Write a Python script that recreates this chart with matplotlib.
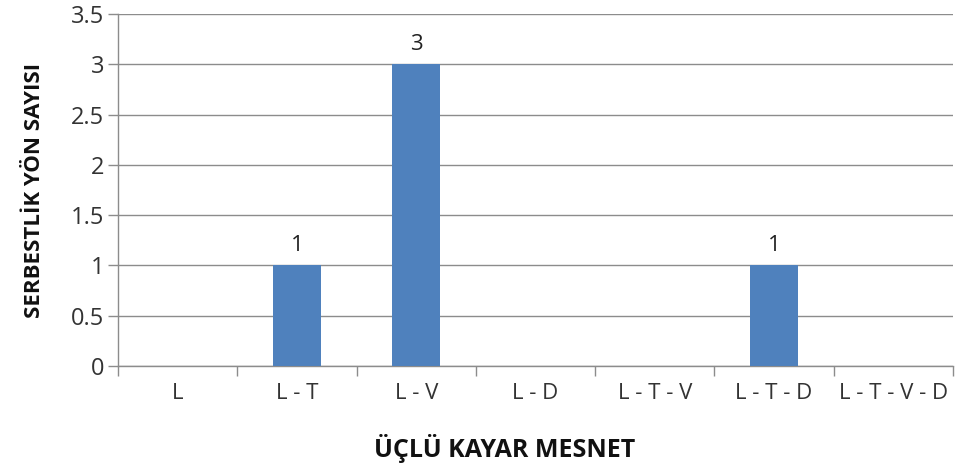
import matplotlib.pyplot as plt
import numpy as np

categories = ["L", "L - T", "L - V", "L - D", "L - T - V", "L - T - D", "L - T - V - D"]
values = [0, 1, 3, 0, 0, 1, 0]
y_ticks = [0, 0.5, 1, 1.5, 2, 2.5, 3, 3.5]
y_tick_labels = ["0", "0.5", "1", "1.5", "2", "2.5", "3", "3.5"]

plt.rcParams["font.family"] = ["Open Sans", "DejaVu Sans"]

fig = plt.figure(figsize=(9.71, 4.73), dpi=100)
ax = fig.add_axes([118 / 971, 107 / 473, 835 / 971, 352 / 473])

x = np.arange(len(categories))
ax.bar(x, values, width=0.40, color="#4F81BD", zorder=3)
for xi, v in zip(x, values):
    if v > 0:
        ax.text(xi, v + 0.09, str(v), ha="center", va="bottom", fontsize=16, color="#222222")

ax.set_xlim(-0.5, len(categories) - 0.5)
ax.set_ylim(0, 3.5)
ax.set_yticks(y_ticks)
ax.set_yticklabels(y_tick_labels, fontsize=17, color="#333333")
ax.grid(axis="y", color="#8c8c8c", linewidth=1.0, zorder=0)

# category labels centered, tick marks on category boundaries
ax.set_xticks(x)
ax.set_xticklabels(categories, fontsize=16, color="#333333")
ax.tick_params(axis="x", length=0, pad=12)
ax.set_xticks(np.arange(len(categories) + 1) - 0.5, minor=True)
ax.tick_params(axis="x", which="minor", length=7, color="#8c8c8c", width=1)
ax.tick_params(axis="y", length=7, color="#8c8c8c", width=1, pad=3)

for s in ["top", "right"]:
    ax.spines[s].set_visible(False)
for s in ["left", "bottom"]:
    ax.spines[s].set_color("#8c8c8c")
    ax.spines[s].set_linewidth(1.0)

fig.text(505 / 971, 1 - 448 / 473, "ÜÇLÜ KAYAR MESNET", ha="center", va="center",
         fontsize=18, fontweight="bold", color="#111111")
fig.text(35 / 971, 1 - 190 / 473, "SERBESTLİK YÖN SAYISI", ha="center", va="center",
         rotation=90, fontsize=16, fontweight="bold", color="#111111")

fig.savefig("out.png", dpi=100)
